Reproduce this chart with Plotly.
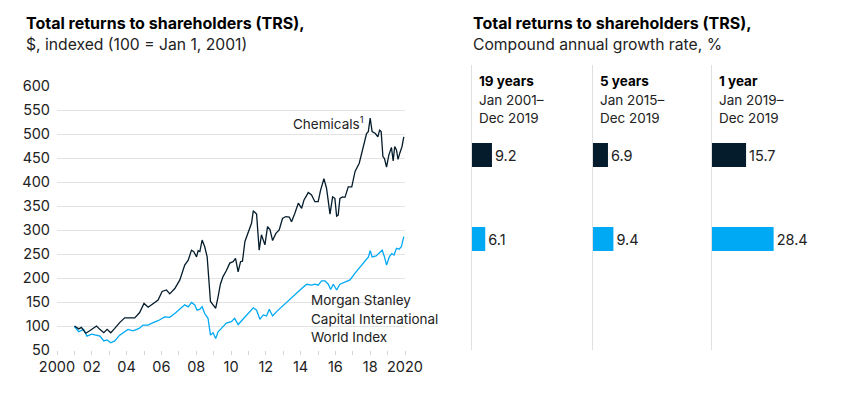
import plotly.graph_objects as go

# the page body has an 8px margin: the figure is drawn 8px in and 8px down
OFF = 8
W, H = 848 - OFF, 397 - OFF
FONT = "Inter"
DARK = "#051C2C"
LIGHT = "#00A9F4"
TXT = "#222222"

# ---------------- line chart data (decimal years) ----------------
chem_x = [2001.0, 2001.25, 2001.4, 2001.65, 2001.88, 2002.27, 2002.46, 2002.69, 2002.88, 2003.09,
          2003.32, 2003.6, 2003.89, 2004.18, 2004.47, 2004.75, 2005.0, 2005.24, 2005.52, 2005.81,
          2006.04, 2006.29, 2006.48, 2006.77, 2007.06, 2007.34, 2007.54, 2007.73, 2007.86, 2008.02,
          2008.11, 2008.21, 2008.34, 2008.49, 2008.63, 2008.74, 2008.82, 2008.97, 2009.12, 2009.26,
          2009.39, 2009.54, 2009.73, 2009.93, 2010.12, 2010.26, 2010.41, 2010.55, 2010.66, 2010.8,
          2010.99, 2011.18, 2011.28, 2011.47, 2011.62, 2011.75, 2011.95, 2012.1, 2012.24, 2012.39,
          2012.58, 2012.77, 2012.96, 2013.15, 2013.35, 2013.48, 2013.67, 2013.87, 2014.06, 2014.19,
          2014.44, 2014.63, 2014.82, 2015.01, 2015.15, 2015.34, 2015.49, 2015.69, 2015.84, 2015.97,
          2016.07, 2016.16, 2016.26, 2016.41, 2016.55, 2016.74, 2016.94, 2017.13, 2017.37, 2017.6,
          2017.79, 2017.89, 2018.0, 2018.11, 2018.3, 2018.44, 2018.54, 2018.63, 2018.73, 2018.82,
          2018.94, 2019.07, 2019.22, 2019.32, 2019.41, 2019.51, 2019.6, 2019.7, 2019.83, 2019.93]
chem_y = [100, 94, 97, 85, 90, 100, 93, 86, 93, 86,
          95, 107, 117, 117, 117, 128, 147, 139, 147, 154,
          172, 175, 167, 178, 196, 227, 237, 258, 255, 244,
          257, 255, 279, 265, 244, 182, 151, 144, 137, 161,
          187, 203, 215, 231, 234, 241, 213, 234, 235, 276,
          297, 314, 340, 333, 258, 290, 269, 307, 301, 278,
          293, 300, 324, 328, 327, 317, 335, 356, 345, 362,
          378, 373, 359, 359, 383, 407, 387, 333, 369, 366,
          329, 331, 366, 369, 368, 390, 390, 422, 439, 470,
          501, 505, 533, 505, 501, 494, 508, 505, 453, 449,
          431, 456, 472, 444, 474, 467, 447, 460, 474, 494]

msci_x = [2001.0, 2001.25, 2001.53, 2001.72, 2002.0, 2002.28, 2002.47, 2002.69, 2002.88, 2003.09,
          2003.32, 2003.6, 2004.08, 2004.37, 2004.72, 2004.95, 2005.24, 2005.52, 2005.81, 2006.19,
          2006.48, 2006.77, 2007.06, 2007.34, 2007.54, 2007.73, 2007.92, 2008.05, 2008.21, 2008.34,
          2008.49, 2008.68, 2008.82, 2008.97, 2009.12, 2009.26, 2009.45, 2009.73, 2010.02, 2010.21,
          2010.41, 2010.6, 2010.99, 2011.28, 2011.47, 2011.66, 2011.85, 2012.04, 2012.2, 2012.39,
          2012.62, 2012.91, 2013.2, 2013.48, 2013.77, 2014.06, 2014.35, 2014.64, 2014.83, 2015.01,
          2015.21, 2015.4, 2015.59, 2015.73, 2015.88, 2016.07, 2016.26, 2016.55, 2016.84, 2017.13,
          2017.42, 2017.71, 2017.9, 2018.0, 2018.11, 2018.34, 2018.53, 2018.69, 2018.82, 2018.94,
          2019.1, 2019.24, 2019.37, 2019.51, 2019.66, 2019.79, 2019.93]
msci_y = [99, 88, 93, 79, 83, 81, 79, 69, 71, 65,
          69, 81, 93, 90, 95, 102, 102, 107, 111, 119,
          118, 126, 135, 144, 140, 149, 144, 133, 135, 140,
          126, 116, 81, 86, 74, 88, 95, 106, 109, 116,
          103, 111, 126, 138, 133, 114, 123, 121, 135, 121,
          130, 140, 149, 158, 168, 178, 187, 185, 187, 185,
          194, 194, 187, 176, 187, 175, 187, 192, 196, 210,
          222, 234, 244, 257, 244, 246, 253, 258, 244, 227,
          244, 251, 248, 262, 260, 265, 286]

year_ticks = [2000, 2002, 2004, 2006, 2008, 2010, 2012, 2014, 2016, 2018, 2020]
year_labels = ["2000", "02", "04", "06", "08", "10", "12", "14", "16", "18", "2020"]
value_ticks = [50, 100, 150, 200, 250, 300, 350, 400, 450, 500, 550, 600]

# ---------------- CAGR bar data ----------------
periods = ["19 years", "5 years", "1 year"]
period_ranges = [("Jan 2001–", "Dec 2019"), ("Jan 2015–", "Dec 2019"), ("Jan 2019–", "Dec 2019")]
series_names = ["Chemicals", "MSCI World"]
chem_cagr = [9.2, 6.9, 15.7]
msci_cagr = [6.1, 9.4, 28.4]


def px(x):
    return (x - OFF) / W


def py(y):
    return 1 - (y - OFF) / H


fig = go.Figure()

fig.add_trace(go.Scatter(x=msci_x, y=msci_y, mode="lines", line=dict(color=LIGHT, width=1.3),
                         xaxis="x", yaxis="y", showlegend=False, hoverinfo="skip"))
fig.add_trace(go.Scatter(x=chem_x, y=chem_y, mode="lines", line=dict(color=DARK, width=1.3),
                         xaxis="x", yaxis="y", showlegend=False, hoverinfo="skip"))

axis_common = dict(fixedrange=True, automargin=False)
layout = dict(
    width=W, height=H, margin=dict(l=0, r=0, t=0, b=0, autoexpand=False),
    paper_bgcolor="white", plot_bgcolor="white",
    font=dict(family=FONT, color=TXT, size=14),
    xaxis=dict(domain=[px(57), px(405)], range=[2000, 2020], tickvals=year_ticks, ticktext=year_labels,
               showgrid=False, zeroline=False, showline=False, ticks="outside", ticklen=4,
               tickcolor="#d6d6d6", tickfont=dict(size=14.5, color=TXT), anchor="y",
               minor=dict(tick0=2000, dtick=1, ticks="outside", ticklen=4, tickcolor="#d6d6d6", showgrid=False),
               **axis_common),
    yaxis=dict(domain=[py(350), py(86)], range=[50, 600], tickvals=value_ticks,
               showgrid=True, gridcolor="#e3e3e3", gridwidth=1, zeroline=False, showline=False,
               tickfont=dict(size=14.5, color=TXT), ticklabelstandoff=6, anchor="x", **axis_common),
)

# bar columns
col_left = [472, 593, 712]
col_width = 120
cat_top_px, cat_gap_px = 155, 84
dom_top, dom_bot = 65, 350
r_lo = -(cat_top_px - dom_top) / cat_gap_px
r_hi = 1 + (dom_bot - (cat_top_px + cat_gap_px)) / cat_gap_px
units_per_px = 1 / 2.17

for i in range(3):
    xa = "x%d" % (i + 2)
    ya = "y%d" % (i + 2)
    fig.add_trace(go.Bar(
        x=[chem_cagr[i], msci_cagr[i]], y=series_names, orientation="h",
        marker=dict(color=[DARK, LIGHT], line=dict(width=0)),
        width=24 / cat_gap_px,
        text=["%.1f" % chem_cagr[i], "%.1f" % msci_cagr[i]], textposition="outside",
        textfont=dict(size=14.5, color=TXT), cliponaxis=False,
        xaxis=xa, yaxis=ya, showlegend=False, hoverinfo="skip"))
    layout["xaxis%d" % (i + 2)] = dict(
        domain=[px(col_left[i]), px(col_left[i] + col_width)], range=[0, col_width * units_per_px],
        visible=False, anchor=ya, **axis_common)
    layout["yaxis%d" % (i + 2)] = dict(
        domain=[py(dom_bot), py(dom_top)], range=[r_hi, r_lo], type="category",
        categoryorder="array", categoryarray=series_names,
        showticklabels=False, showgrid=False, zeroline=False, ticks="",
        showline=True, linecolor="#e0e0e0", linewidth=1, anchor=xa, **axis_common)

fig.update_layout(**layout)

ann = []


def text(x, y, s, size=14, bold=False, xanchor="left"):
    ann.append(dict(x=px(x), y=py(y), xref="paper", yref="paper", text=("<b>%s</b>" % s) if bold else s,
                    showarrow=False, xanchor=xanchor, yanchor="middle",
                    font=dict(family=FONT, size=size, color="#000000" if bold else TXT)))


text(24, 23, "Total returns to shareholders (TRS),", size=16, bold=True)
text(24, 45, "$, indexed (100 = Jan 1, 2001)", size=15.7)
text(471, 23, "Total returns to shareholders (TRS),", size=16, bold=True)
text(471, 45, "Compound annual growth rate, %", size=15.7)

for i in range(3):
    text(col_left[i] + 5, 81, periods[i], size=13.5, bold=True)
    text(col_left[i] + 5, 100, period_ranges[i][0], size=13.5)
    text(col_left[i] + 5, 118, period_ranges[i][1], size=13.5)

text(365, 123, "Chemicals<sup>1</sup>", size=13.5, xanchor="right")
text(309, 300, "Morgan Stanley", size=13.5)
text(309, 319, "Capital International", size=13.5)
text(309, 337, "World Index", size=13.5)

fig.update_layout(annotations=ann)
fig.write_html("out.html")
